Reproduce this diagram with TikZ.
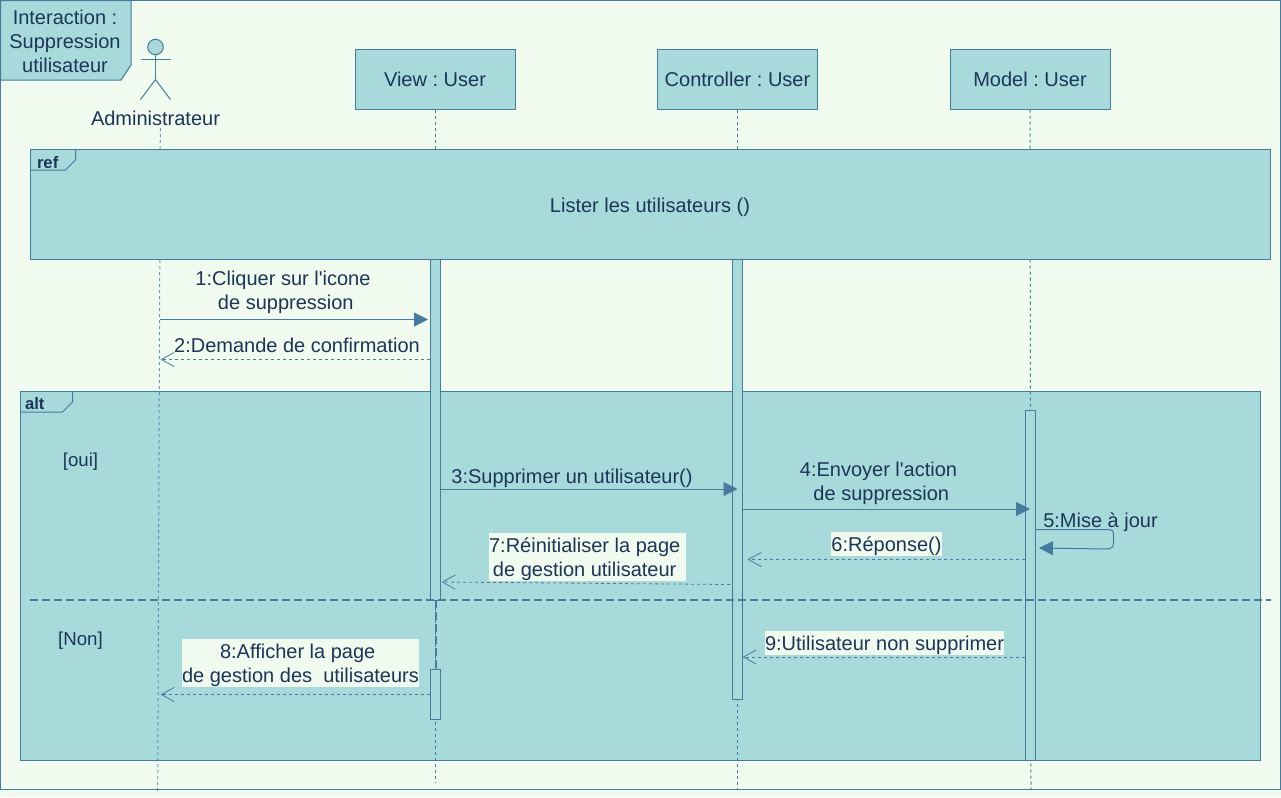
\documentclass[tikz,border=0pt]{standalone}
\usepackage{fontspec}
\setmainfont{Liberation Sans}[Ligatures=TeXOff]
\usetikzlibrary{arrows.meta}
\definecolor{bgc}{HTML}{F1FAEE}
\definecolor{fillc}{HTML}{A8DADC}
\definecolor{linec}{HTML}{457B9D}
\definecolor{textc}{HTML}{1D3557}
\tikzset{
  x=0.75pt,y=-0.75pt,
  every node/.style={text=textc,font=\fontsize{15pt}{18pt}\selectfont\frenchspacing,inner sep=0pt,outer sep=0pt,align=center},
  outline/.style={draw=linec,line width=0.75pt},
  box/.style={outline,fill=fillc},
  lifeln/.style={draw=linec,line width=0.75pt,dash pattern=on 2.25pt off 2.25pt},
  syncmsg/.style={draw=linec,line width=0.75pt,-{Triangle[length=10.5pt,width=10.5pt,fill=linec]}},
  retmsg/.style={draw=linec,line width=0.6pt,dash pattern=on 2.25pt off 2.25pt,-{Straight Barb[length=9.5pt,width=10.5pt,line width=0.6pt,round=false]}},
  sepline/.style={draw=linec,line width=1.5pt,dash pattern=on 6pt off 3pt},
  lbl/.style={fill=bgc},
  tag/.style={font=\bfseries\fontsize{12.5pt}{14pt}\selectfont},
  guard/.style={font=\fontsize{14pt}{16pt}\selectfont},
}
\newcommand{\activation}[4]{\node[box,minimum width=7.5pt,minimum height={(#4-#3)*0.75pt},anchor=north] (#1) at (#2,#3) {};}
\newcommand{\topst}{\rule{0pt}{14.25pt}}
\newcommand{\botst}{\rule[-3.75pt]{0pt}{3.75pt}}
\newcommand{\gap}{\kern4.2pt}
\begin{document}
\begin{tikzpicture}
\useasboundingbox (0,0) rectangle (1281,797);
\fill[bgc] (0,0) rectangle (1281,797);
% outer frame
\node[outline,fill=bgc,anchor=north west,minimum width={1280*0.75pt},minimum height={789*0.75pt}] (frame) at (0.5,0.5) {};
\path[box] (0.5,0.5) -- (131,0.5) -- (131,65) -- (121,80) -- (0.5,80) -- cycle;
\node (title) at (65,41) {Interaction :\\[0pt]Suppression\\[0pt]utilisateur};

% lifeline heads
\coordinate (aTop) at (160.3,128);
\coordinate (aBot) at (157.7,792);
\node[box,minimum width={160*0.75pt},minimum height={60*0.75pt},anchor=north west] (view) at (355,49.5) {View : User};
\node[box,minimum width={160*0.75pt},minimum height={60*0.75pt},anchor=north west] (ctrl) at (657.5,49.5) {Controller : User};
\node[box,minimum width={160*0.75pt},minimum height={60*0.75pt},anchor=north west] (model) at (950,49.5) {Model : User};

% actor
\node[box,circle,minimum size={15.5*0.75pt}] (head) at (155.5,47) {};
\coordinate (hip) at (155.5,79.5);
\coordinate (armL) at (140.5,59.5);
\coordinate (armR) at (170.5,59.5);
\coordinate (legL) at (140.5,99.5);
\coordinate (legR) at (170.5,99.5);
\draw[outline] (head.south) -- (hip);
\draw[outline] (armL) -- (armR);
\draw[outline] (legL) -- (hip) -- (legR);
\node (actor) at (155.5,118) {Administrateur};

% alt frame
\node[box,anchor=north west,minimum width={1240*0.75pt},minimum height={369*0.75pt}] (alt) at (20.5,391.5) {};
\draw[outline] (20.5,412) -- (62.5,412) -- (72.5,402) -- (72.5,391.5);
\node[tag,anchor=west] (alttag) at (25,404) {alt};

% lifelines
\coordinate (vBot) at (435,782);
\coordinate (cBot) at (737.5,790);
\coordinate (mBot) at (1031,790);
\draw[lifeln,draw opacity=.75] (aTop) -- (aBot);
\draw[lifeln] (view.south) -- (vBot);
\draw[lifeln] (ctrl.south) -- (cBot);
\draw[lifeln] (model.south) -- (mBot);

% activations
\activation{av}{435}{250}{600}
\activation{ac}{737.5}{250}{699.5}
\activation{am}{1030}{410.5}{760.5}
\activation{av2}{435.5}{669.5}{719.5}

% ref frame
\node[box,anchor=north west,minimum width={1240*0.75pt},minimum height={110*0.75pt}] (ref) at (30.5,149.5) {};
\draw[outline] (30.5,170) -- (65.5,170) -- (75.5,160) -- (75.5,149.5);
\node[tag,anchor=west] (reftag) at (37,163) {ref};
\node (reftxt) at (650,207) {Lister les utilisateurs ()};

% separator
\coordinate (sepL) at (30,600);
\coordinate (sepR) at (1271,600);
\coordinate (vSepA) at (435.5,600);
\draw[sepline] (sepL) -- (sepR);
\draw[sepline] (vSepA) -- (av2.north);
\node[guard] (oui) at (80.5,462) {[oui]};
\node[guard] (non) at (80.5,641) {[Non]};

% messages
\coordinate (m1a) at (160,319.5); \coordinate (m1b) at (428,319.5);
\draw[syncmsg] (m1a) -- (m1b);
\node (l1) at (283,292.5) {1:Cliquer sur l'icone\\[0pt]\gap de suppression};
\coordinate (m2a) at (430,359.5); \coordinate (m2b) at (161,359.5);
\draw[retmsg] (m2a) -- (m2b);
\node (l2) at (297,345.5) {2:Demande de confirmation};
\coordinate (m3a) at (440,489); \coordinate (m3b) at (737.5,489);
\draw[syncmsg] (m3a) -- (m3b);
\node (l3) at (572,478) {3:Supprimer un utilisateur()};
\coordinate (m4a) at (742,509); \coordinate (m4b) at (1030,509);
\draw[syncmsg] (m4a) -- (m4b);
\node (l4) at (878.5,483.5) {4:Envoyer l'action\\[0pt]\gap de suppression};
\coordinate (m5a) at (1035,529.5); \coordinate (m5b) at (1039,548);
\draw[syncmsg] (m5a) -- (1106,529.5) .. controls (1113,529.5) and (1113.5,531) .. (1113.5,535) -- (1113.5,542) .. controls (1113.5,547) and (1112,549) .. (1106,549) -- (m5b);
\node (l5) at (1100.5,522) {5:Mise à jour};
\coordinate (m6a) at (1025,559.5); \coordinate (m6b) at (748,559.5);
\draw[retmsg] (m6a) -- (m6b);
\node[lbl] (l6) at (886.5,544) {\topst\botst 6:Réponse()};
\coordinate (m7a) at (730,584.5); \coordinate (m7b) at (442,582);
\draw[retmsg] (m7a) -- (m7b);
\node[lbl] (l7) at (587.5,557) {\topst 7:Réinitialiser la page\gap\\[0pt]\botst de gestion utilisateur\gap};
\coordinate (m8a) at (430,694.5); \coordinate (m8b) at (161,694.5);
\draw[retmsg] (m8a) -- (m8b);
\node[lbl] (l8) at (300.5,663) {\topst 8:Afficher la page\gap\\[0pt]\botst de gestion des\ \ utilisateurs};
\coordinate (m9a) at (1025,657); \coordinate (m9b) at (743,657);
\draw[retmsg] (m9a) -- (m9b);
\node[lbl] (l9) at (884.5,643) {\topst\botst 9:Utilisateur non supprimer};
\end{tikzpicture}
\end{document}
